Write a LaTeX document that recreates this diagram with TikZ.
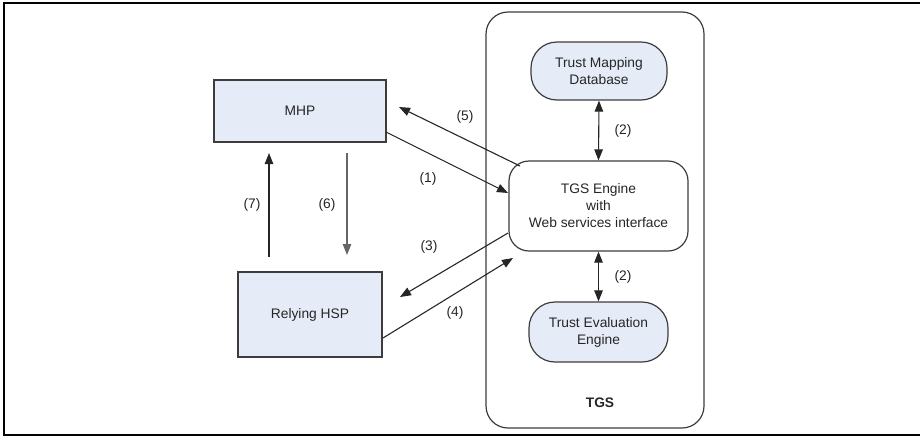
\documentclass[tikz,border=0pt]{standalone}
\usepackage{fontspec}
\setmainfont{Liberation Sans}
\usetikzlibrary{arrows.meta,calc}
\definecolor{boxfill}{HTML}{E6ECF7}
\definecolor{edge}{HTML}{3C3C3C}
\tikzset{
  every node/.style={font=\fontsize{13.8}{17}\selectfont, text=black!85},
  party/.style={draw=edge, line width=1.2pt, fill=boxfill, inner sep=0pt},
  pill/.style={draw=edge, line width=1.2pt, fill=boxfill, rounded corners=26pt, inner sep=0pt, align=center},
  engine/.style={draw=edge, line width=1.2pt, fill=white, rounded corners=20pt, inner sep=0pt, align=center},
  tgsbox/.style={draw=edge, line width=1.2pt, rounded corners=22pt, inner sep=0pt},
  flow/.style={draw=black!85, line width=1.1pt, -{Triangle[length=11pt,width=8.5pt]}},
  both/.style={flow, {Triangle[length=11pt,width=8.5pt]}-{Triangle[length=11pt,width=8.5pt]}},
  tag/.style={inner sep=0pt}
}
\begin{document}
\begin{tikzpicture}[x=1pt,y=-1pt]
\useasboundingbox (0,0) rectangle (920,437);
% outer frame (open on the right)
\draw[line width=2.2pt, line cap=rect] (920,3) -- (4,3) -- (4,435) -- (920,435);

% TGS container
\node[tgsbox, minimum width=218pt, minimum height=416pt] (tgs) at (595,220) {};
\node[tag, font=\fontsize{13.8}{17}\selectfont\bfseries] (tgslabel) at (600,403) {TGS};

% parties
\node[party, minimum width=172pt, minimum height=62pt] (mhp) at (300,111) {MHP};
\node[party, minimum width=144pt, minimum height=85pt] (hsp) at (310,314.5) {Relying HSP};

% TGS components
\node[pill, minimum width=136pt, minimum height=58pt] (tmd) at (599,71) {Trust Mapping\\Database};
\node[engine, minimum width=179pt, minimum height=90pt] (eng) at (598.5,206) {TGS Engine\\with\\Web services interface};
\node[pill, minimum width=139pt, minimum height=60pt] (tee) at (598.5,332) {Trust Evaluation\\Engine};

% free ends of the connectors
\coordinate (p5end) at (399,107);
\coordinate (p5start) at (520,166);
\coordinate (p1start) at (386,132);
\coordinate (p1end) at (508,193);
\coordinate (p3start) at (508,233);
\coordinate (p3end) at (400,297);
\coordinate (p4start) at (383,338);
\coordinate (p4end) at (513,258);
\coordinate (p7start) at (269,257);
\coordinate (p7end) at (269,153);
\coordinate (p6start) at (347,153);
\coordinate (p6end) at (347,255);

% connectors
\draw[both] (tmd.south) -- (eng.north);
\draw[both] (eng.south) -- (tee.north);
\draw[flow] (p5start) -- (p5end);
\draw[flow] (p1start) -- (p1end);
\draw[flow] (p3start) -- (p3end);
\draw[flow] (p4start) -- (p4end);
\draw[flow] (p7start) -- (p7end);
\draw[flow, draw=black!60] (p6start) -- (p6end);

% step labels
\node[tag] (l2a) at (623,131) {(2)};
\node[tag] (l2b) at (623,277) {(2)};
\node[tag] (l5) at (465,117) {(5)};
\node[tag] (l1) at (428,179) {(1)};
\node[tag] (l3) at (429,247) {(3)};
\node[tag] (l4) at (455,313) {(4)};
\node[tag] (l7) at (252,205) {(7)};
\node[tag] (l6) at (327,205) {(6)};
\end{tikzpicture}
\end{document}
